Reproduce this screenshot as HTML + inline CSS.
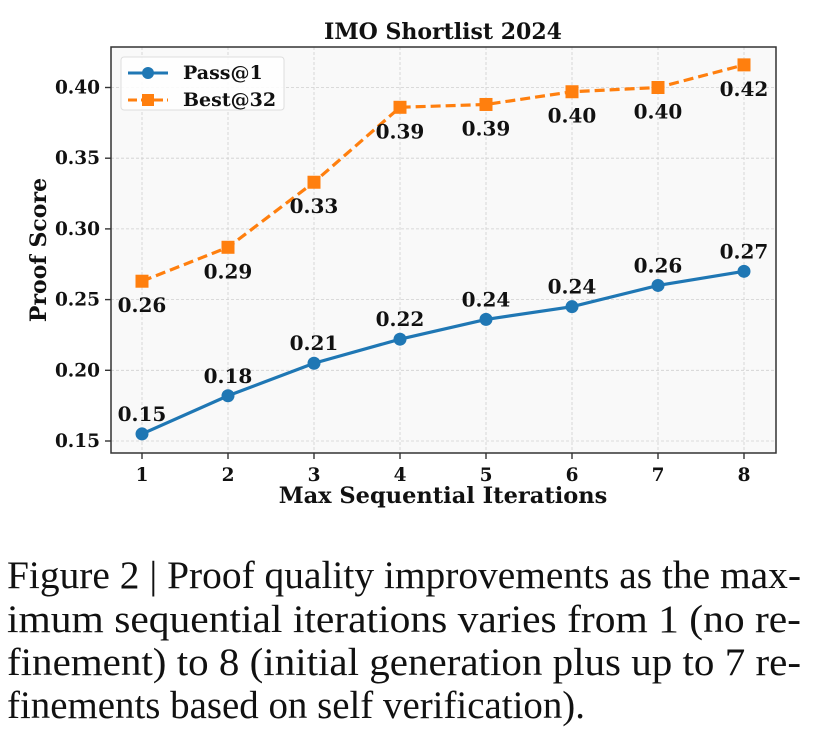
<!DOCTYPE html>
<html><head><meta charset="utf-8"><style>
body{margin:0;background:#fff;width:813px;height:739px;overflow:hidden}
svg{display:block}
.t{font-family:"DejaVu Serif","Liberation Serif",serif;font-weight:bold;fill:#111}
.cap{font-family:"Liberation Serif",serif;font-size:39px;fill:#111}
</style></head><body>
<svg id="chart" width="813" height="739">
<text class="t" x="443" y="39" font-size="22" text-anchor="middle">IMO Shortlist 2024</text>
<rect x="111" y="47" width="665" height="406" fill="#f9f9f9"/>
<g id="grid"></g>
<g id="series"></g>
<rect x="111" y="47" width="665" height="406" fill="none" stroke="#333" stroke-width="1.5"/>
<g id="ticks"></g>
<text class="t" x="443" y="503" font-size="22.5" text-anchor="middle">Max Sequential Iterations</text>
<text class="t" transform="translate(46,250) rotate(-90)" font-size="22" text-anchor="middle">Proof Score</text>
<g>
<rect x="121" y="57" width="163" height="53" rx="3" fill="#fff" fill-opacity="0.85" stroke="#ddd"/>
<line x1="128" y1="73" x2="168" y2="73" stroke="#1f77b4" stroke-width="3"/>
<circle cx="148" cy="73" r="6" fill="#1f77b4"/>
<text class="t" x="183" y="79" font-size="19">Pass@1</text>
<line x1="128" y1="100" x2="168" y2="100" stroke="#ff7f0e" stroke-width="3" stroke-dasharray="9,4"/>
<rect x="142" y="94" width="12" height="12" fill="#ff7f0e"/>
<text class="t" x="183" y="106" font-size="19">Best@32</text>
</g>
<g>
<text class="cap" x="7" y="588" textLength="794" lengthAdjust="spacingAndGlyphs">Figure 2 | Proof quality improvements as the max-</text>
<text class="cap" x="7" y="632" textLength="794" lengthAdjust="spacingAndGlyphs">imum sequential iterations varies from 1 (no re-</text>
<text class="cap" x="7" y="675" textLength="794" lengthAdjust="spacingAndGlyphs">finement) to 8 (initial generation plus up to 7 re-</text>
<text class="cap" x="7" y="718" textLength="578" lengthAdjust="spacingAndGlyphs">finements based on self verification).</text>
</g>
</svg>
<script>
const categories=[1,2,3,4,5,6,7,8];
const passValues=[0.155,0.182,0.205,0.222,0.236,0.245,0.260,0.270];
const bestValues=[0.263,0.287,0.333,0.386,0.388,0.397,0.400,0.416];
const passLabels=["0.15","0.18","0.21","0.22","0.24","0.24","0.26","0.27"];
const bestLabels=["0.26","0.29","0.33","0.39","0.39","0.40","0.40","0.42"];
const yTicks=[0.15,0.20,0.25,0.30,0.35,0.40];
const yTickLabels=["0.15","0.20","0.25","0.30","0.35","0.40"];
const NS="http://www.w3.org/2000/svg";
function xs(c){return 142+(c-1)*86;}
function ys(v){return 441-(v-0.15)/0.05*70.7;}
function mk(tag,attrs,parent){const e=document.createElementNS(NS,tag);for(const k in attrs)e.setAttribute(k,attrs[k]);parent.appendChild(e);return e;}
const grid=document.getElementById('grid'),ticks=document.getElementById('ticks'),ser=document.getElementById('series');
categories.forEach((c,i)=>{
 const g=mk('line',{x1:xs(c),x2:xs(c),y1:47,y2:453,stroke:'#d0d0d0','stroke-dasharray':'3,2','stroke-width':0.8},grid);
 
 
 mk('line',{x1:xs(c),x2:xs(c),y1:453,y2:459,stroke:'#333','stroke-width':1.4},ticks);
 const t=mk('text',{x:xs(c),y:481,'font-size':18.5,'text-anchor':'middle',class:'t'},ticks);
 t.textContent=c;
 
 
});
yTicks.forEach((v,i)=>{
 const g=mk('line',{x1:111,x2:776,y1:ys(v),y2:ys(v),stroke:'#d0d0d0','stroke-dasharray':'3,2','stroke-width':0.8},grid);
 
 
 mk('line',{x1:105,x2:111,y1:ys(v),y2:ys(v),stroke:'#333','stroke-width':1.4},ticks);
 const t=mk('text',{x:100,y:ys(v)+6,'font-size':18.5,'text-anchor':'end',class:'t'},ticks);
 t.textContent=yTickLabels[i];
 
 
});
function series(vals,labels,color,dash,marker,name,off){
 const pts=vals.map((v,i)=>xs(categories[i])+','+ys(v)).join(' ');
 const pl=mk('polyline',{points:pts,fill:'none',stroke:color,'stroke-width':3.2},ser);
 if(dash)pl.setAttribute('stroke-dasharray',dash);
 
 
 vals.forEach((v,i)=>{
  let m;
  if(marker==='circle')m=mk('circle',{cx:xs(categories[i]),cy:ys(v),r:6.5,fill:color},ser);
  else m=mk('rect',{x:xs(categories[i])-6.5,y:ys(v)-6.5,width:13,height:13,fill:color},ser);
  
  
  const t=mk('text',{x:xs(categories[i]),y:ys(v)+off,'font-size':20,'text-anchor':'middle',class:'t'},ser);
  t.textContent=labels[i];
  
  
 });
}
series(passValues,passLabels,'#1f77b4',null,'circle','pass-at-1',-13);
series(bestValues,bestLabels,'#ff7f0e','10,5','square','best-at-32',31);
</script>
</body></html>
